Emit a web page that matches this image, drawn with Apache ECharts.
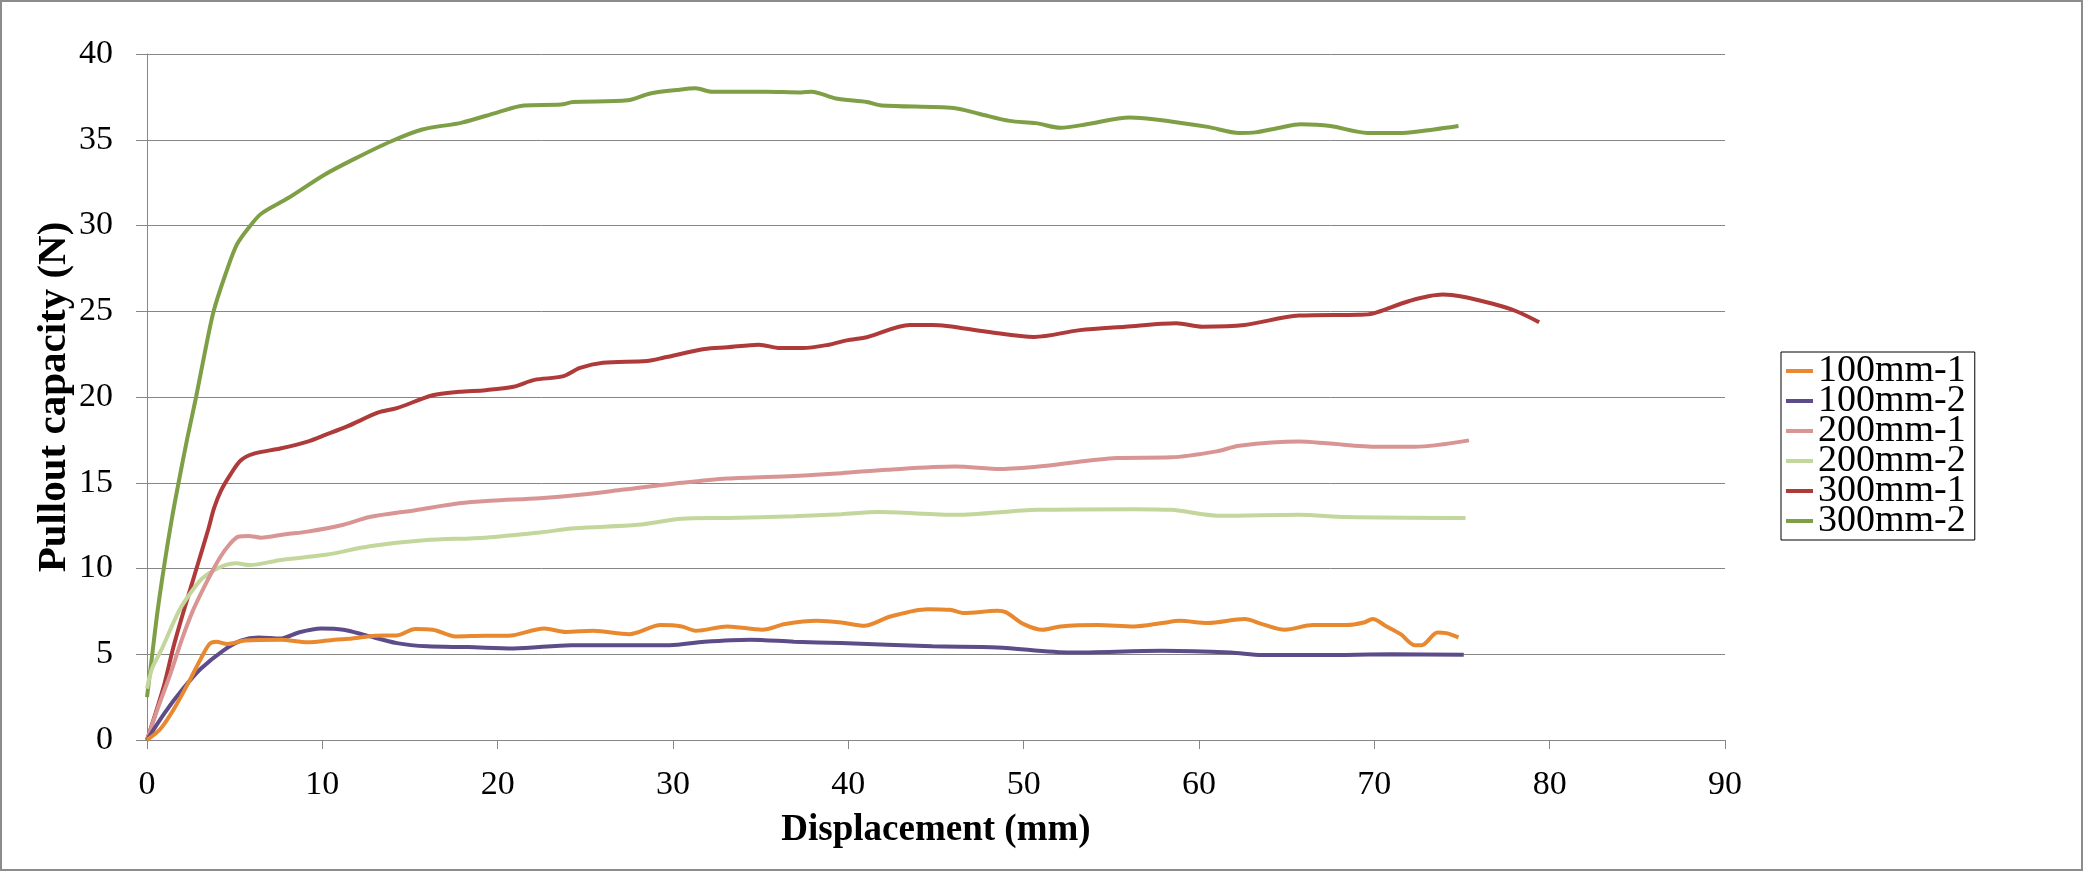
<!DOCTYPE html>
<html>
<head>
<meta charset="utf-8">
<script src="https://cdn.jsdelivr.net/npm/echarts@6/dist/echarts.min.js"></script>
<style>
html,body{margin:0;padding:0;background:#fff;}
#chart{width:2084px;height:872px;}
</style>
</head>
<body>
<div id="chart"></div>
<script>
// ---- data (displacement mm, pullout capacity N) ----
const seriesNames = ['100mm-1','100mm-2','200mm-1','200mm-2','300mm-1','300mm-2'];
const xTicks = [0,10,20,30,40,50,60,70,80,90];
const yTicks = [0,5,10,15,20,25,30,35,40];

const s100mm1 = [[0,0],[0.76,0.64],[1.53,1.8],[2.29,3.2],[3.05,4.7],[3.56,5.6],[3.95,5.73],[4.58,5.6],[5.6,5.8],[7.64,5.85],[9.16,5.7],[10.7,5.85],[11.7,5.92],[13.0,6.08],[14.25,6.1],[15.3,6.47],[16.3,6.43],[17.6,6.04],[19.3,6.08],[20.6,6.08],[22.65,6.5],[23.9,6.3],[25.45,6.37],[27.5,6.17],[29.3,6.7],[30.5,6.62],[31.3,6.37],[33.1,6.62],[35.1,6.43],[36.4,6.76],[38.2,6.95],[39.6,6.85],[40.9,6.66],[42.4,7.2],[44.5,7.63],[45.8,7.59],[46.6,7.4],[48.5,7.53],[49.0,7.44],[50.0,6.76],[51.1,6.43],[52.1,6.62],[54.2,6.7],[56.3,6.62],[57.9,6.82],[58.9,6.95],[60.5,6.82],[62.6,7.05],[63.6,6.76],[64.9,6.43],[66.5,6.7],[68.4,6.7],[69.4,6.85],[69.9,7.05],[70.7,6.62],[71.5,6.17],[72.3,5.53],[72.7,5.53],[73.6,6.27],[74.1,6.23],[74.8,5.98]];
const s100mm2 = [[0,0],[1.02,1.6],[2.04,2.97],[3.05,4.14],[4.33,5.2],[5.35,5.79],[6.36,5.98],[7.64,5.92],[8.65,6.27],[9.93,6.5],[11.2,6.43],[12.5,6.1],[14.25,5.65],[16.0,5.46],[18.3,5.42],[20.9,5.34],[24.2,5.53],[26.7,5.53],[29.8,5.53],[31.8,5.73],[34.4,5.85],[36.9,5.73],[39.6,5.65],[44.8,5.46],[48.5,5.4],[52.7,5.1],[57.9,5.2],[61.8,5.1],[63.6,4.95],[67.0,4.95],[71.0,5.0],[75.1,4.97]];
const s200mm1 = [[0,0],[0.6,1.8],[1.35,3.9],[2.0,5.9],[2.6,7.5],[3.2,8.8],[3.7,9.8],[4.2,10.7],[4.7,11.4],[5.2,11.85],[5.8,11.9],[6.5,11.8],[7.9,12.0],[9.16,12.15],[11.2,12.55],[12.7,13.0],[15.3,13.4],[17.8,13.8],[19.6,13.95],[22.4,14.1],[24.7,14.3],[27.2,14.6],[30.5,15.0],[33.1,15.25],[36.9,15.4],[39.6,15.56],[42.2,15.76],[46.1,15.95],[48.7,15.8],[51.3,15.99],[55.3,16.44],[58.4,16.48],[61.0,16.83],[62.3,17.16],[65.7,17.4],[67.3,17.3],[70.2,17.1],[72.3,17.1],[75.4,17.47]];
const s200mm2 = [[0,3.0],[0.3,4.2],[0.84,5.3],[1.4,6.6],[1.86,7.6],[2.5,8.6],[3.13,9.4],[3.82,9.9],[4.45,10.2],[5.09,10.3],[5.85,10.2],[7.64,10.5],[10.2,10.8],[12.7,11.3],[15.8,11.65],[19.3,11.8],[22.4,12.1],[24.4,12.35],[28.0,12.55],[30.5,12.9],[33.1,12.95],[36.9,13.05],[39.6,13.17],[41.7,13.29],[46.1,13.13],[50.8,13.42],[56.3,13.46],[58.4,13.42],[61.3,13.07],[65.7,13.13],[68.4,13.0],[75.2,12.94]];
const s300mm1 = [[0,0],[0.5,1.6],[1.0,3.3],[1.5,5.4],[2.0,7.2],[2.5,8.9],[3.0,10.6],[3.5,12.3],[3.82,13.5],[4.2,14.5],[4.71,15.4],[5.34,16.3],[6.1,16.7],[7.6,17.0],[9.16,17.4],[10.2,17.8],[11.45,18.3],[13.2,19.1],[14.25,19.35],[16.3,20.1],[17.8,20.3],[19.3,20.4],[20.9,20.6],[22.1,21.0],[23.7,21.2],[24.7,21.7],[26.0,22.0],[28.5,22.1],[29.5,22.3],[31.8,22.8],[33.1,22.9],[34.9,23.05],[36.1,22.85],[37.4,22.85],[38.9,23.05],[39.9,23.3],[41.1,23.5],[43.5,24.2],[44.8,24.2],[47.9,23.8],[50.6,23.5],[53.2,23.9],[55.8,24.1],[58.7,24.3],[60.2,24.1],[62.6,24.2],[65.7,24.75],[69.1,24.8],[69.9,24.86],[72.0,25.6],[73.9,25.97],[74.9,25.88],[76.7,25.45],[78.1,25.0],[79.4,24.36]];
const s300mm2 = [[0,2.5],[0.3,5],[0.6,7.5],[1.0,10.3],[1.4,12.8],[1.8,15.0],[2.3,17.6],[2.8,20.0],[3.3,22.6],[3.8,25.0],[4.49,27.2],[5.13,28.9],[5.9,30.0],[6.53,30.7],[8.05,31.6],[10.1,32.95],[11.86,33.9],[13.9,34.9],[15.7,35.6],[17.96,36.0],[20.0,36.6],[21.5,37.0],[23.6,37.05],[24.3,37.2],[27.4,37.3],[28.7,37.7],[30.2,37.9],[31.3,38.0],[32.2,37.8],[35.3,37.8],[37.3,37.76],[37.9,37.8],[39.3,37.4],[41.05,37.2],[41.9,37.0],[46.0,36.85],[47.5,36.5],[49.2,36.1],[50.7,35.97],[52.1,35.7],[53.6,35.9],[56.05,36.3],[57.4,36.2],[60.5,35.75],[62.3,35.4],[63.2,35.43],[64.6,35.7],[65.8,35.9],[67.5,35.8],[69.6,35.4],[71.6,35.4],[73.4,35.6],[74.8,35.8]];

const seriesData = [s100mm1, s100mm2, s200mm1, s200mm2, s300mm1, s300mm2];
const colors = ['#E8892F','#5E4B8A','#D89593','#C3D69B','#AE3A3A','#7F9F46'];

const FONT = "'Liberation Serif','Times New Roman',serif";
const chart = echarts.init(document.getElementById('chart'), null, {renderer:'canvas'});

chart.setOption({
  backgroundColor:'#ffffff',
  animation:false,
  color: colors,
  grid:{left:147, right:359, top:54, bottom:132, containLabel:false},
  graphic:[{type:'rect', shape:{x:1, y:1, width:2081, height:869}, style:{fill:'none', stroke:'#8c8c8c', lineWidth:2}, silent:true}],
  legend:{
    orient:'vertical', left:1781, top:352,
    padding:[0,9,0,5], itemGap:-8,
    itemWidth:27, itemHeight:4, icon:'rect',
    borderColor:'#000', borderWidth:1,
    textStyle:{fontFamily:FONT, fontSize:38, color:'#000'},
    data: seriesNames
  },
  xAxis:{
    type:'value', min:xTicks[0], max:xTicks[xTicks.length-1], interval:10,
    name:'Displacement (mm)', nameLocation:'middle', nameGap:72,
    nameTextStyle:{fontFamily:FONT, fontSize:37, fontWeight:'bold', color:'#000'},
    axisLine:{show:true, lineStyle:{color:'#868686', width:1}},
    axisTick:{show:true, length:9, lineStyle:{color:'#868686'}},
    axisLabel:{fontFamily:FONT, fontSize:34, color:'#000', margin:28},
    splitLine:{show:false}
  },
  yAxis:{
    type:'value', min:yTicks[0], max:yTicks[yTicks.length-1], interval:5,
    name:'Pullout capacity (N)', nameLocation:'middle', nameGap:72, nameMoveOverlap:false,
    nameTextStyle:{fontFamily:FONT, fontSize:41, fontWeight:'bold', color:'#000'},
    axisLine:{show:true, lineStyle:{color:'#868686', width:1}},
    axisTick:{show:true, length:11, lineStyle:{color:'#868686'}},
    axisLabel:{fontFamily:FONT, fontSize:34, color:'#000', margin:34},
    splitLine:{show:true, lineStyle:{color:'#868686', width:1}}
  },
  series: seriesNames.map((n,i)=>({
    name:n, type:'line', data:seriesData[i], showSymbol:false, smooth:0.3,
    lineStyle:{width:4, color:colors[i]}, itemStyle:{color:colors[i]}, z:10-i
  }))
});
</script>
</body>
</html>
